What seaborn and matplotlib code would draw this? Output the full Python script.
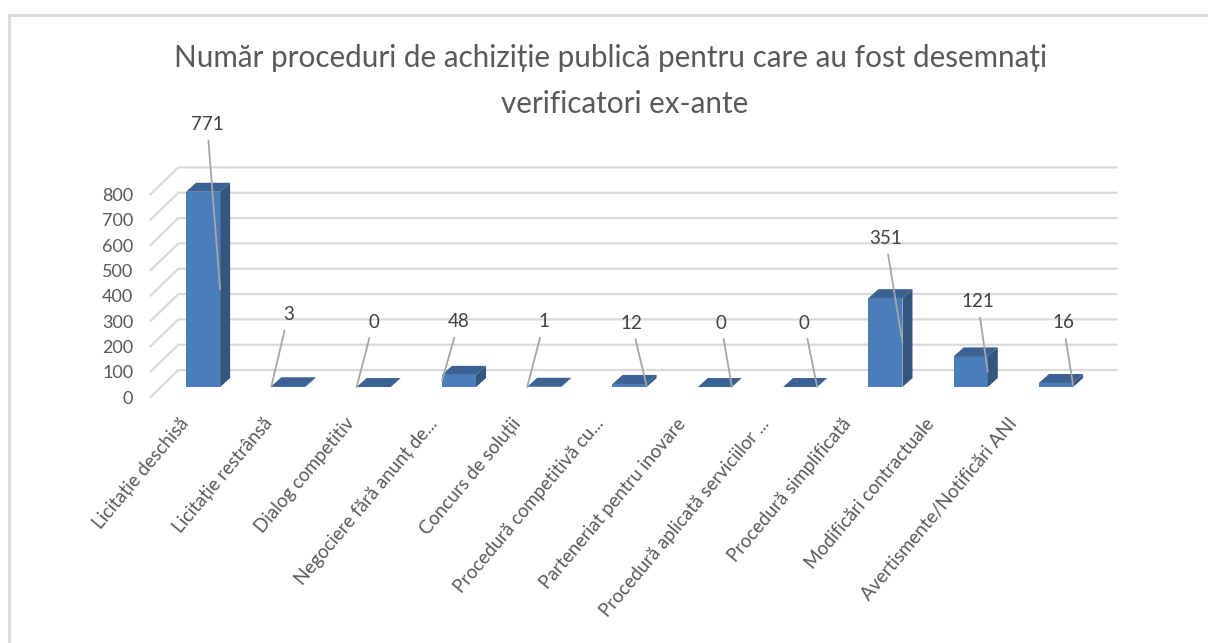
import matplotlib
matplotlib.use("Agg")
import matplotlib.pyplot as plt
import seaborn as sns
from matplotlib.transforms import IdentityTransform, ScaledTranslation
from matplotlib.patches import Polygon, Rectangle
from matplotlib.lines import Line2D

# ---- data -------------------------------------------------------------
categories = [
    "Licitație deschisă",
    "Licitație restrânsă",
    "Dialog competitiv",
    "Negociere fără anunț de...",
    "Concurs de soluții",
    "Procedură competitivă cu...",
    "Parteneriat pentru inovare",
    "Procedură aplicată serviciilor ...",
    "Procedură simplificată",
    "Modificări contractuale",
    "Avertismente/Notificări ANI",
]
values = [771, 3, 0, 48, 1, 12, 0, 0, 351, 121, 16]
y_ticks = [0, 100, 200, 300, 400, 500, 600, 700, 800]
title_lines = ["Număr proceduri de achiziție publică pentru care au fost desemnați",
               "verificatori ex-ante"]

# ---- styling ----------------------------------------------------------
label_side = ["right", "left", "left", "left", "left", "right",
              "right", "right", "right", "right", "right"]
label_offset = [(-13, 165), (17, 72), (17, 65), (17, 59), (17, 65), (-15, 62),
                (-11, 64), (-13, 64), (-17, 104), (-10, 70), (-10, 62)]

FRONT = "#4A7EBB"
SIDE = "#33557F"
TOP = "#3B6293"
GRID = "#D9D9D9"
TEXT = "#595959"
DEPTH = (10, 9)        # bar depth in pixels
WALL = (18, 17)        # back wall offset from bar front plane
FLOOR_FRONT = (-10, -10)

sns.set_theme(style="white")
plt.rcParams["font.family"] = ["Lato", "DejaVu Sans"]

fig = plt.figure(figsize=(12.08, 6.43), dpi=100)
ax = fig.add_axes([0.1328, 0.3981, 0.7767, 0.3151])

sns.barplot(x=categories, y=values, color=FRONT, saturation=1, width=0.4,
            linewidth=0, ax=ax, zorder=3)
ax.set_xlim(-0.5, 10.5)
ax.set_ylim(0, 800)
for s in ax.spines.values():
    s.set_visible(False)
ax.set_xlabel("")
ax.set_ylabel("")
ax.grid(False)

ident = IdentityTransform()


def disp(x, y):
    return ax.transData.transform((x, y))


# back wall gridlines with the diagonal floor edge on the left
for t in y_ticks:
    fx, fy = disp(-0.5, t)
    rx, ry = disp(10.5, t)
    ln = Line2D([fx + FLOOR_FRONT[0], fx + WALL[0], rx + WALL[0]],
                [fy + FLOOR_FRONT[1], fy + WALL[1], ry + WALL[1]],
                transform=ident, color=GRID, lw=1.6, clip_on=False, zorder=0.5)
    ax.add_artist(ln)

# side and top faces for each bar
dx, dy = DEPTH
for p in ax.patches:
    x0, y0 = disp(p.get_x(), 0)
    x1, y1 = disp(p.get_x() + p.get_width(), p.get_height())
    side = Polygon([(x1, y0), (x1 + dx, y0 + dy), (x1 + dx, y1 + dy), (x1, y1)],
                   closed=True, transform=ident, facecolor=SIDE, edgecolor="none",
                   clip_on=False, zorder=3)
    top = Polygon([(x0, y1), (x1, y1), (x1 + dx, y1 + dy), (x0 + dx, y1 + dy)],
                  closed=True, transform=ident, facecolor=TOP, edgecolor="none",
                  clip_on=False, zorder=3)
    ax.add_artist(side)
    ax.add_artist(top)

# axis ticks
ax.set_yticks(y_ticks)
ax.set_yticklabels([str(t) for t in y_ticks])
ax.set_xticks(range(len(categories)))
ax.set_xticklabels(categories, rotation=50, ha="right", va="center",
                   rotation_mode="anchor")
ax.tick_params(axis="y", length=0, pad=19.5, labelsize=13, labelcolor=TEXT)
ax.tick_params(axis="x", length=0, pad=24, labelsize=13.4, labelcolor=TEXT)
for lab in ax.get_yticklabels():
    lab.set_transform(lab.get_transform() + ScaledTranslation(0, -0.10, fig.dpi_scale_trans))
# category labels sit on the front floor edge, which is slightly narrower
for i, lab in enumerate(ax.get_xticklabels()):
    shift = -(17 + 2.5 * i) / 100
    lab.set_transform(lab.get_transform() + ScaledTranslation(shift, 0, fig.dpi_scale_trans))

# data labels with leader lines
for i, v in enumerate(values):
    ex = i + (0.2 if label_side[i] == "right" else -0.2)
    ax.annotate(str(v), xy=(ex, v / 2), xytext=label_offset[i],
                textcoords="offset pixels", ha="center", va="center",
                fontsize=13.5, color="#404040", annotation_clip=False, zorder=6,
                arrowprops=dict(arrowstyle="-", color="#A6A6A6", lw=1.3,
                                shrinkA=3, shrinkB=0))

# two-line chart title
fig.text(0.505, 1 - 67 / 643, title_lines[0], ha="center", va="baseline",
         fontsize=21.3, color=TEXT)
fig.text(0.517, 1 - 113 / 643, title_lines[1], ha="center", va="baseline",
         fontsize=21.3, color=TEXT)

# chart area border
fig.add_artist(Rectangle((9, -20), 1300, 648, transform=ident, fill=False,
                         edgecolor=GRID, lw=2))

fig.savefig("out.png", dpi=100, facecolor="white")
